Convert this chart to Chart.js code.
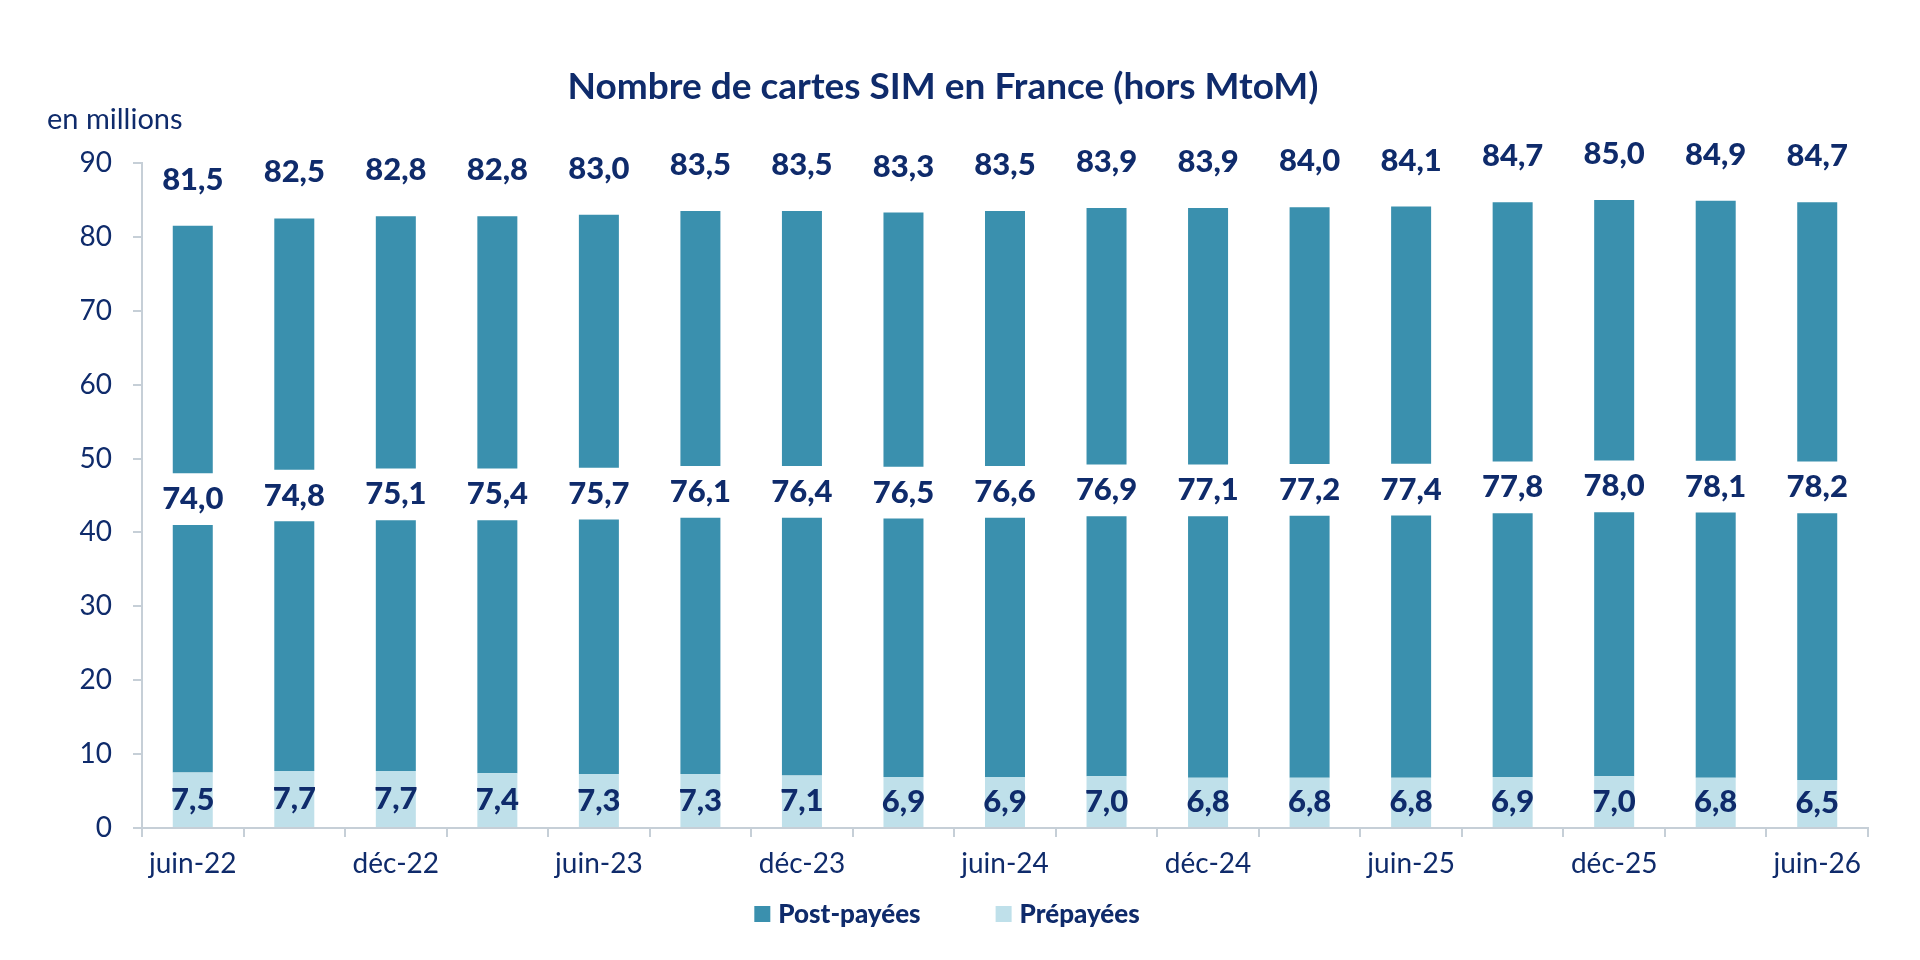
<!DOCTYPE html>
<html lang="fr">
<head>
<meta charset="utf-8">
<title>Nombre de cartes SIM en France</title>
<script src="https://cdn.jsdelivr.net/npm/chart.js@4.4.1/dist/chart.umd.min.js"></script>
<style>
  html, body { margin: 0; padding: 0; background: #fff; }
  #chart { display: block; }
</style>
</head>
<body>
<canvas id="chart" width="1920" height="960"></canvas>
<script>
// ----- DATA -----
const quarters = ['juin-22', 'sept-22', 'déc-22', 'mars-23', 'juin-23', 'sept-23', 'déc-23', 'mars-24',
  'juin-24', 'sept-24', 'déc-24', 'mars-25', 'juin-25', 'sept-25', 'déc-25', 'mars-26', 'juin-26'];
const prepaid = [7.5, 7.7, 7.7, 7.4, 7.3, 7.3, 7.1, 6.9, 6.9, 7.0, 6.8, 6.8, 6.8, 6.9, 7.0, 6.8, 6.5];
const postpaid = [74.0, 74.8, 75.1, 75.4, 75.7, 76.1, 76.4, 76.5, 76.6, 76.9, 77.1, 77.2, 77.4, 77.8, 78.0, 78.1, 78.2];
const totals = [81.5, 82.5, 82.8, 82.8, 83.0, 83.5, 83.5, 83.3, 83.5, 83.9, 83.9, 84.0, 84.1, 84.7, 85.0, 84.9, 84.7];
const yTicks = [0, 10, 20, 30, 40, 50, 60, 70, 80, 90];

const TEXT = '#0f2b6b';
const DARK = '#3a90ae';
const LIGHT = '#bfe0ea';
const AXIS = '#c6cfd7';
const FONT = 'Lato, "Open Sans", sans-serif';

// the post-paid bar is drawn "broken": a white gap sits around mid height
const GAP = 7;
const gapLow = totals.map(t => t / 2 + 0.25);
const gapHigh = gapLow.map(g => g + GAP);

const fmt = v => v.toFixed(1).replace('.', ',');

// titles, legend and value labels
const decorPlugin = {
  id: 'decor',
  afterDraw(chart) {
    const ctx = chart.ctx;
    ctx.save();
    ctx.fillStyle = TEXT;
    ctx.textBaseline = 'middle';

    ctx.font = 'bold 37px ' + FONT;
    ctx.textAlign = 'center';
    ctx.fillText('Nombre de cartes SIM en France (hors MtoM)', 943, 87);

    ctx.font = '29px ' + FONT;
    ctx.textAlign = 'left';
    ctx.fillText('en millions', 47, 120);

    // value labels
    const pre = chart.getDatasetMeta(0).data;
    const low = chart.getDatasetMeta(1).data;
    const up = chart.getDatasetMeta(2).data;
    ctx.font = '900 31px ' + FONT;
    ctx.textAlign = 'center';
    quarters.forEach((q, i) => {
      const x = up[i].x;
      ctx.fillText(fmt(totals[i]), x, up[i].y - 46);
      ctx.fillText(fmt(postpaid[i]), x, (up[i].base + low[i].y) / 2);
      ctx.fillText(fmt(prepaid[i]), x, (pre[i].y + pre[i].base) / 2);
    });

    // legend
    const items = [['Post-payées', DARK], ['Prépayées', LIGHT]];
    ctx.font = '900 26px ' + FONT;
    const widths = items.map(it => 16 + 8 + ctx.measureText(it[0]).width);
    const total = widths[0] + 75 + widths[1];
    let lx = 947 - total / 2;
    const ly = 914;
    ctx.textAlign = 'left';
    items.forEach((it, i) => {
      ctx.fillStyle = it[1];
      ctx.fillRect(lx, ly - 8, 16, 16);
      ctx.fillStyle = TEXT;
      ctx.fillText(it[0], lx + 24, ly + 1);
      lx += widths[i] + 75;
    });
    ctx.restore();
  }
};

new Chart(document.getElementById('chart'), {
  type: 'bar',
  data: {
    labels: quarters,
    datasets: [
      {
        label: 'Prépayées',
        data: prepaid.map(p => [0, p]),
        backgroundColor: LIGHT
      },
      {
        label: 'Post-payées',
        data: prepaid.map((p, i) => [p, gapLow[i]]),
        backgroundColor: DARK
      },
      {
        label: 'Post-payées',
        data: totals.map((t, i) => [gapHigh[i], t]),
        backgroundColor: DARK
      }
    ]
  },
  plugins: [decorPlugin],
  options: {
    responsive: false,
    animation: false,
    barPercentage: 0.394,
    categoryPercentage: 1,
    layout: { padding: { top: 163, right: 52, bottom: 72, left: 0 } },
    plugins: {
      legend: { display: false },
      title: { display: false },
      tooltip: { enabled: false }
    },
    scales: {
      x: {
        stacked: true,
        offset: true,
        afterFit: s => { s.height = 60; },
        grid: { offset: true, drawOnChartArea: false, tickLength: 9, color: AXIS, lineWidth: 2 },
        border: { color: AXIS, width: 2 },
        ticks: {
          autoSkip: false,
          maxRotation: 0,
          padding: 10,
          color: TEXT,
          font: { family: FONT, size: 28 },
          callback: (v, i) => (i % 2 === 0 ? quarters[i] : '')
        }
      },
      y: {
        min: 0,
        max: 90,
        afterFit: s => { s.width = 142; },
        afterBuildTicks: s => { s.ticks = yTicks.map(v => ({ value: v })); },
        grid: { drawOnChartArea: false, tickLength: 9, color: AXIS, lineWidth: 2 },
        border: { color: AXIS, width: 2 },
        ticks: {
          padding: 21,
          color: TEXT,
          font: { family: FONT, size: 28 }
        }
      }
    }
  }
});
</script>
</body>
</html>
